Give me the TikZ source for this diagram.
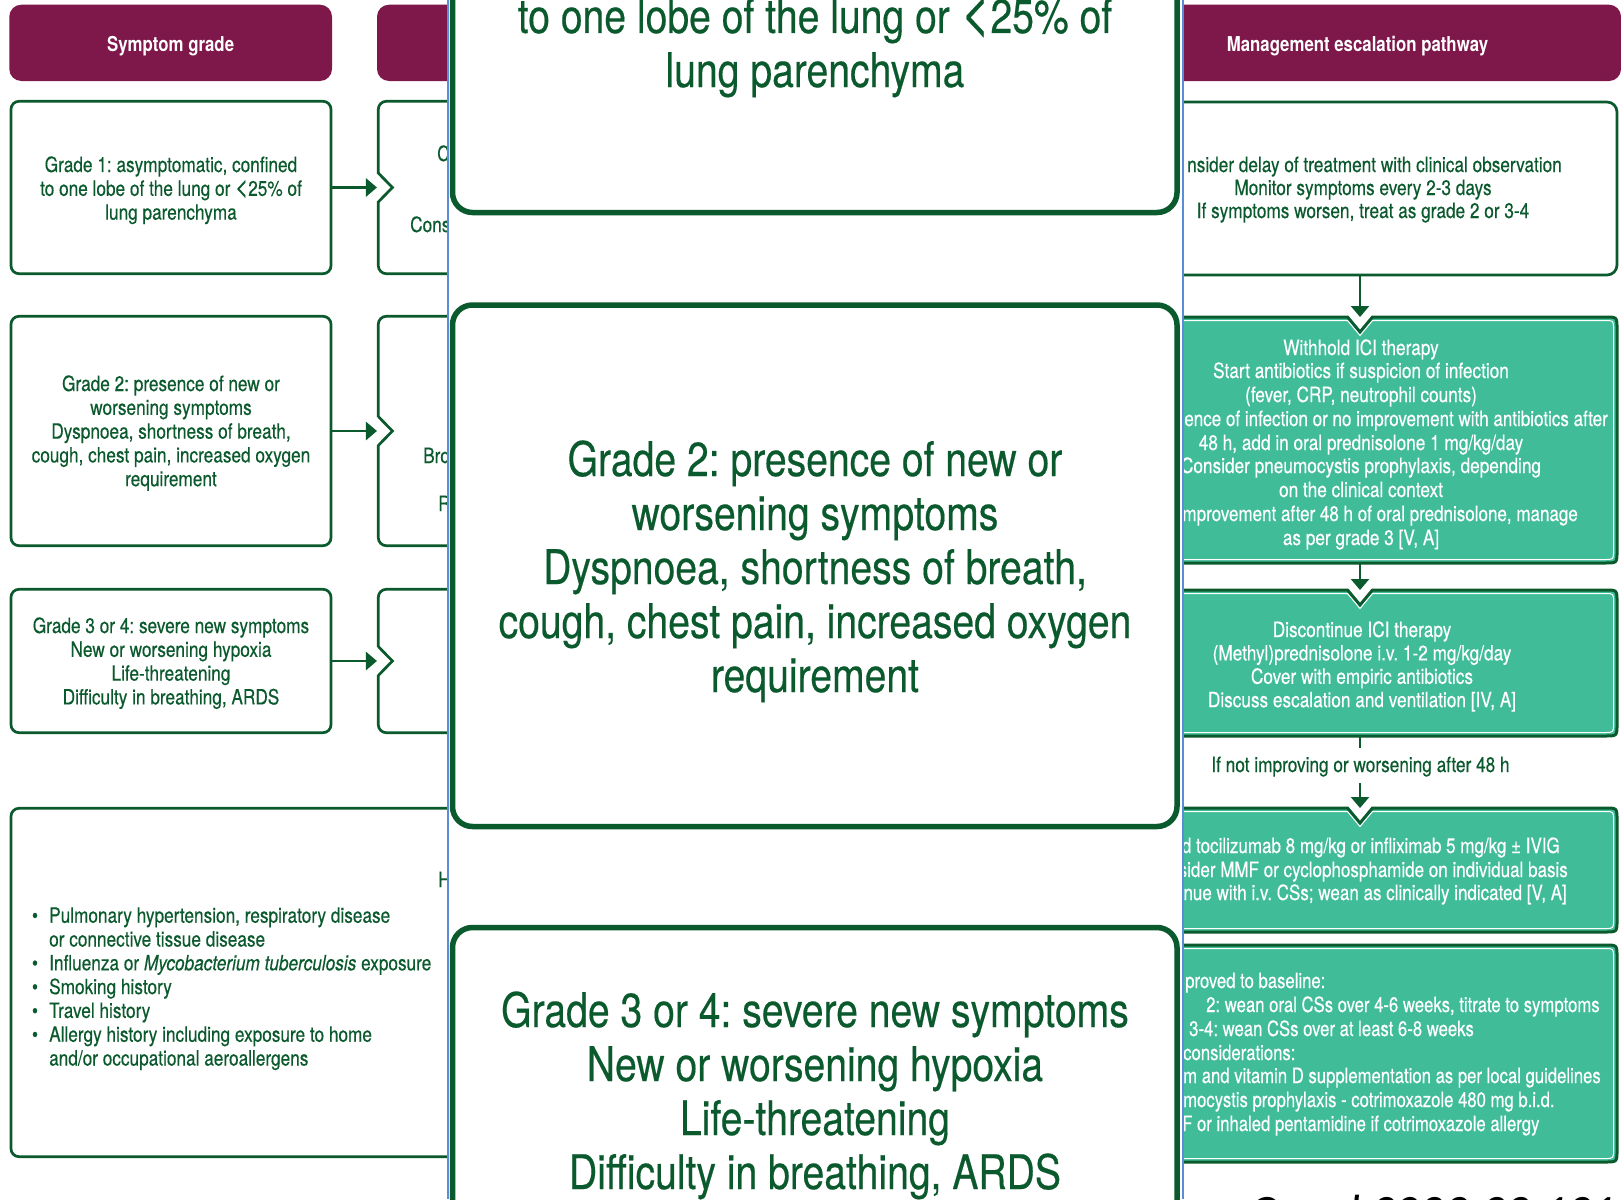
\documentclass[tikz,border=0pt]{standalone}
\usepackage{graphicx}
\usepackage{fontspec}
\setmainfont{TeX Gyre Heros}[FakeStretch=0.82,
  UprightFeatures={FakeBold=0.35}, ItalicFeatures={FakeBold=0.35}]
\newfontfamily\narrowfont{TeX Gyre Heros}[FakeStretch=0.81, UprightFeatures={FakeBold=0.35}]
\newfontfamily\narrowerfont{TeX Gyre Heros}[FakeStretch=0.795, UprightFeatures={FakeBold=0.35}]
\newfontfamily\citefont{Carlito}
\usetikzlibrary{arrows.meta}
\frenchspacing

\definecolor{hdrcol}{HTML}{7E184B}
\definecolor{dkgreen}{HTML}{0B5A2E}
\definecolor{tealfill}{HTML}{40BD98}
\definecolor{bluerule}{HTML}{5B8CD6}

\newcommand{\bodyfont}{\fontsize{21pt}{23.8pt}\selectfont}
\newcommand{\headfont}{\fontsize{20.5pt}{24pt}\selectfont\bfseries}
\newcommand{\bigfont}{\fontsize{47.7pt}{54pt}\selectfont}
% a less-than sign as tall as the figures
\newcommand{\lessthan}{\smash{\scalebox{1.3}[1.3]{<}}}

% one base-anchored node per line: style, x, first baseline, step, name, lines
\newcommand{\textlines}[6]{%
  \foreach \tline [count=\i from 0] in {#6} {\node[#1] (#5\i) at (#2,{#3+\i*#4}) {\tline};}}

% rounded box with a V notch in its top edge
% #1 options, #2 x1, #3 y1, #4 x2, #5 y2, #6 notch x, #7 corner radius, #8 notch depth
\newcommand{\notchpath}[8]{%
  \path[#1] ({#2+#7},#3) -- ({#6-12.5},#3) -- (#6,{#3+#8}) -- ({#6+12.5},#3)
    -- ({#4-#7},#3) .. controls (#4,#3) .. (#4,{#3+#7})
    -- (#4,{#5-#7}) .. controls (#4,#5) .. ({#4-#7},#5)
    -- ({#2+#7},#5) .. controls (#2,#5) .. (#2,{#5-#7})
    -- (#2,{#3+#7}) .. controls (#2,#3) .. ({#2+#7},#3) -- cycle;}

% chevron cut into the left edge of a middle-column box
\newcommand{\chevron}[1]{%
  \fill[white] (375.4,{#1-13.6}) rectangle (381,{#1+13.6});
  \draw[dkgreen, line width=2.7pt] (378.3,{#1-14.4}) -- (392.5,#1) -- (378.3,{#1+14.4});}

\begin{document}
\begin{tikzpicture}[x=1pt, y=-1pt,
  gbox/.style={draw=dkgreen, line width=2.7pt, rounded corners=8pt, fill=white, inner sep=0pt},
  hdr/.style={fill=hdrcol, rounded corners=12pt, inner sep=0pt},
  hdrtxt/.style={text=white, font=\headfont, inner sep=0pt, anchor=base},
  body/.style={text=dkgreen, font=\bodyfont, inner sep=0pt, anchor=base},
  bodyw/.style={body, text=white},
  bodyn/.style={bodyw, font={\narrowfont\bodyfont}},
  bodynn/.style={bodyw, font={\narrowerfont\bodyfont}},
  bigtxt/.style={text=dkgreen, font=\bigfont, inner sep=0pt, anchor=base},
  bigbox/.style={draw=dkgreen, line width=5.5pt, rounded corners=20pt, fill=white, inner sep=0pt},
  arr/.style={draw=dkgreen, line width=2.7pt, -{Triangle[length=11pt, width=18pt]}},
  link/.style={draw=dkgreen, line width=2.7pt},
  slot/.style={inner sep=0pt, outer sep=0pt}]
\useasboundingbox (0,0) rectangle (1621,1199);
\fill[white] (0,0) rectangle (1621,1199);

% ---------- symptom grade column and the start of the next one ----------
\begin{scope}
\clip (0,0) rectangle (447.5,1199);
\node[hdr, minimum width=322.7pt, minimum height=76.3pt] (h1) at (170.65,42.85) {};
\node[hdrtxt] (h1t) at (170.65,52) {Symptom grade};
\node[hdr, minimum width=400pt, minimum height=76.3pt] (h2) at (577,42.85) {};

\node[gbox, minimum width=320pt, minimum height=172.4pt] (g1) at (171,187.5) {};
\node[gbox, minimum width=320pt, minimum height=229.4pt] (g2) at (171,431) {};
\node[gbox, minimum width=320pt, minimum height=143.4pt] (g3) at (171,661) {};

\node[gbox, minimum width=321.7pt, minimum height=172.4pt] (m1) at (539.15,187.5) {};
\node[gbox, minimum width=321.7pt, minimum height=229.4pt] (m2) at (539.15,431) {};
\node[gbox, minimum width=321.7pt, minimum height=143.4pt] (m3) at (539.15,661) {};
\chevron{187.5}
\chevron{431}
\chevron{661}

\draw[arr] (g1.east) -- (m1.west);
\draw[arr] (g2.east) -- (m2.west);
\draw[arr] (g3.east) -- (m3.west);

\textlines{body}{171}{172}{23.8}{g1l}{{Grade 1: asymptomatic, confined},{to one lobe of the lung or \lessthan25\% of},{lung parenchyma}}
\textlines{body}{171}{391}{23.8}{g2l}{{Grade 2: presence of new or},{worsening symptoms},{Dyspnoea, shortness of breath,},{cough, chest pain, increased oxygen},{requirement}}
\textlines{body}{171}{633}{23.8}{g3l}{{Grade 3 or 4: severe new symptoms},{New or worsening hypoxia},{Life-threatening},{Difficulty in breathing, ARDS}}

\node[body, anchor=base west] (m1a) at (437,161) {C};
\node[body, anchor=base west] (m1b) at (410,232) {Cons};
\node[body, anchor=base west] (m2a) at (423,463) {Bro};
\node[body, anchor=base west] (m2b) at (438,511) {R};

\node[gbox, minimum width=900pt, minimum height=348.4pt] (hist) at (461,982.5) {};
\node[body, anchor=base west] (hista) at (438,887) {H};
\foreach \k in {0,2,3,4,5} {\node[body] (hb\k) at (35,{922.7+\k*23.8}) {\textbullet};}
\textlines{{body, anchor=base west}}{49}{922.7}{23.8}{hl}{{Pulmonary hypertension, respiratory disease},{or connective tissue disease},{Influenza or \textit{Mycobacterium tuberculosis} exposure},{Smoking history},{Travel history},{Allergy history including exposure to home},{and/or occupational aeroallergens}}
\end{scope}

% ---------- management escalation pathway ----------
\begin{scope}
\clip (1182.5,0) rectangle (1621,1199);
\node[hdr, minimum width=518pt, minimum height=76.3pt] (h3) at (1362,42.85) {};
\node[hdrtxt] (h3t) at (1357.5,52) {Management escalation pathway};

\node[gbox, rounded corners=10pt, minimum width=514pt, minimum height=173pt] (r1) at (1360,188.5) {};
\node[body, anchor=base east] (r1a) at (1562,172) {nsider delay of treatment with clinical observation};
\node[body] (r1b) at (1363,195) {Monitor symptoms every 2-3 days};
\node[body] (r1c) at (1363,218) {If symptoms worsen, treat as grade 2 or 3-4};

% grade 2 management
\node[slot, minimum width=514pt, minimum height=246pt] (r2) at (1360,440) {};
\notchpath{fill=tealfill, draw=dkgreen, line width=3pt}{1103}{317}{1617}{563}{1360}{12}{15}
\notchpath{draw=white, line width=1pt}{1106.5}{320.5}{1613.5}{559.5}{1360}{8.5}{15}
\node[bodyw] (r2a) at (1361,355) {Withhold ICI therapy};
\node[bodyw] (r2b) at (1361,378) {Start antibiotics if suspicion of infection};
\node[bodyw] (r2c) at (1361,402) {(fever, CRP, neutrophil counts)};
\node[bodyn, anchor=base east] (r2d) at (1608,426) {ence of infection or no improvement with antibiotics after};
\node[bodyw] (r2e) at (1361,450) {48 h, add in oral prednisolone 1 mg/kg/day};
\node[bodyw] (r2f) at (1361,473) {Consider pneumocystis prophylaxis, depending};
\node[bodyw] (r2g) at (1361,497) {on the clinical context};
\node[bodyn, anchor=base east] (r2h) at (1578,521) {improvement after 48 h of oral prednisolone, manage};
\node[bodyw] (r2i) at (1361,545) {as per grade 3 [V, A]};

% grade 3-4 management
\node[slot, minimum width=514pt, minimum height=146pt] (r3) at (1360,663) {};
\notchpath{fill=tealfill, draw=dkgreen, line width=3pt}{1103}{590}{1617}{736}{1360}{12}{15}
\notchpath{draw=white, line width=1pt}{1106.5}{593.5}{1613.5}{732.5}{1360}{8.5}{15}
\textlines{bodyw}{1362}{637}{23.4}{r3l}{{Discontinue ICI therapy},{(Methyl)prednisolone i.v. 1-2 mg/kg/day},{Cover with empiric antibiotics},{Discuss escalation and ventilation [IV, A]}}

\coordinate (stub) at (1360,748);
\node[body] (lab) at (1360.5,772) {If not improving or worsening after 48 h};
\coordinate (labbot) at (1360,783);

% further escalation
\node[slot, minimum width=514pt, minimum height=124pt] (r4) at (1360,870) {};
\notchpath{fill=tealfill, draw=dkgreen, line width=3pt}{1103}{808}{1617}{932}{1360}{12}{15}
\notchpath{draw=white, line width=1pt}{1106.5}{811.5}{1613.5}{928.5}{1360}{8.5}{15}
\node[bodyn, anchor=base east] (r4a) at (1560,853) {d tocilizumab 8 mg/kg or infliximab 5 mg/kg ± IVIG};
\node[bodyn, anchor=base east] (r4b) at (1568,877) {sider MMF or cyclophosphamide on individual basis};
\node[bodyn, anchor=base east] (r4c) at (1567,900) {tinue with i.v. CSs; wean as clinically indicated [V, A]};

% weaning and long-term considerations
\node[slot, minimum width=514pt, minimum height=217pt] (r5) at (1360,1053.5) {};
\notchpath{fill=tealfill, draw=dkgreen, line width=3pt}{1103}{945}{1617}{1162}{1360}{12}{0}
\notchpath{draw=white, line width=1pt}{1106.5}{948.5}{1613.5}{1158.5}{1360}{8.5}{0}
\node[bodynn, anchor=base west] (r5a) at (1185,988) {proved to baseline:};
\node[bodynn, anchor=base west] (r5b) at (1206,1012) {2: wean oral CSs over 4-6 weeks, titrate to symptoms};
\node[bodynn, anchor=base west] (r5c) at (1189,1036) {3-4: wean CSs over at least 6-8 weeks};
\node[bodynn, anchor=base west] (r5d) at (1183,1060) {considerations:};
\node[bodynn, anchor=base west] (r5e) at (1183,1083) {m and vitamin D supplementation as per local guidelines};
\node[bodynn, anchor=base west] (r5f) at (1183,1107) {mocystis prophylaxis - cotrimoxazole 480 mg b.i.d.};
\node[bodynn, anchor=base west] (r5g) at (1182,1131) {F or inhaled pentamidine if cotrimoxazole allergy};

\draw[arr] (r1.south) -- (r2.north);
\draw[arr] (r2.south) -- (r3.north);
\draw[link] (r3.south) -- (stub);
\draw[arr] (labbot) -- (r4.north);

\node[anchor=base west, inner sep=0pt, text=black, font=\citefont\itshape\fontsize{48pt}{50pt}\selectfont] (cite) at (1161,1228) {Ann Oncol 2022;33:1217};
\end{scope}

% ---------- enlarged view of the symptom grades ----------
\begin{scope}
\clip (447.5,0) rectangle (1182.5,1199);
\fill[white] (447.5,0) rectangle (1182.5,1199);
\node[bigbox, minimum width=724.5pt, minimum height=395.5pt] (z1) at (814.75,14.75) {};
\node[bigbox, minimum width=724.5pt, minimum height=521.5pt] (z2) at (814.75,565.75) {};
\node[bigbox, minimum width=724.5pt, minimum height=332.5pt] (z3) at (814.75,1093.75) {};
\textlines{bigtxt}{815}{33}{54}{z1l}{{to one lobe of the lung or \lessthan25\% of},{lung parenchyma}}
\textlines{bigtxt}{815}{476}{54}{z2l}{{Grade 2: presence of new or},{worsening symptoms},{Dyspnoea, shortness of breath,},{cough, chest pain, increased oxygen},{requirement}}
\textlines{bigtxt}{815}{1027}{54}{z3l}{{Grade 3 or 4: severe new symptoms},{New or worsening hypoxia},{Life-threatening},{Difficulty in breathing, ARDS}}
\end{scope}
\draw[bluerule, line width=2pt] (447.5,0) -- (447.5,1199);
\draw[bluerule, line width=2pt] (1182.5,0) -- (1182.5,1199);
\end{tikzpicture}
\end{document}
